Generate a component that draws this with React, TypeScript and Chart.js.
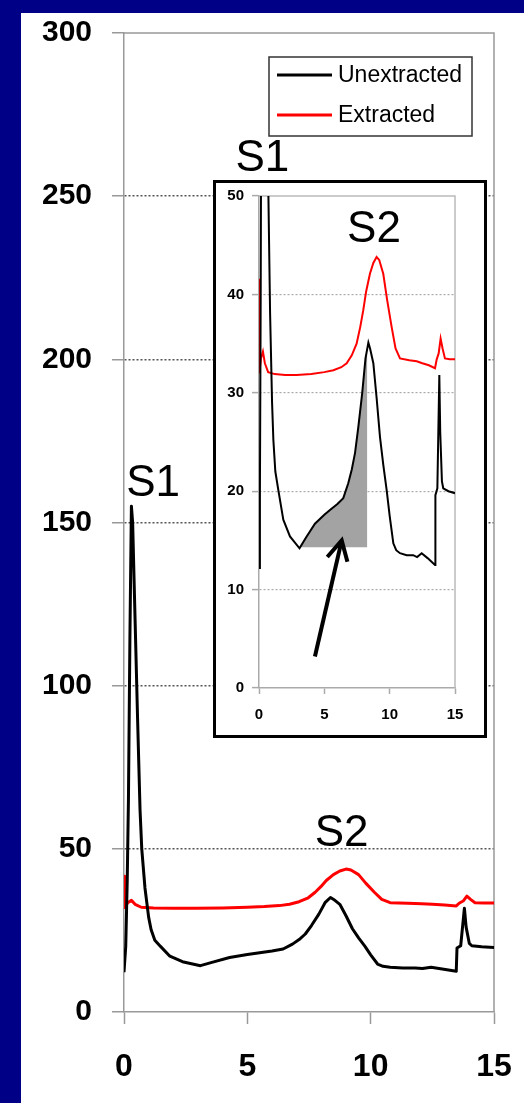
import { useEffect, useRef } from 'react';
import { Chart, registerables } from 'chart.js';

Chart.register(...registerables);

// ---- data ----
const seriesNames = ['Unextracted', 'Extracted'];

const unextractedX = [0, 0.07, 0.13, 0.18, 0.24, 0.3, 0.35, 0.45, 0.55, 0.65, 0.72, 0.85, 1.0, 1.1, 1.25, 1.48, 1.86, 2.37, 3.1, 3.6, 4.28, 5.0, 5.43, 6.0, 6.45, 6.83, 7.1, 7.35, 7.6, 7.9, 8.15, 8.37, 8.5, 8.75, 9.0, 9.26, 9.51, 9.77, 10.0, 10.28, 10.5, 10.79, 11.3, 11.8, 12.1, 12.45, 12.9, 13.47, 13.5, 13.65, 13.75, 13.8, 13.87, 14.0, 14.1, 14.5, 15];
const unextractedY = [12.2, 20, 40, 65, 115, 155, 150, 120, 90, 62, 50, 38, 29, 25.2, 22, 20.1, 17.1, 15.4, 14.2, 15.3, 16.7, 17.6, 18.1, 18.7, 19.3, 20.8, 22.2, 23.9, 26.5, 30, 33.5, 35.1, 34.5, 33.0, 29.5, 25.5, 22.7, 20.1, 17.5, 14.7, 14.0, 13.7, 13.5, 13.5, 13.3, 13.7, 13.2, 12.5, 19.6, 20.3, 28, 31.8, 26, 21, 20.3, 20.0, 19.8];

const extractedX = [0, 0.03, 0.15, 0.3, 0.45, 0.7, 1.2, 2.0, 2.88, 4.0, 5.0, 5.69, 6.3, 6.71, 7.1, 7.47, 7.75, 7.98, 8.2, 8.49, 8.75, 9.0, 9.2, 9.51, 9.8, 10.15, 10.45, 10.79, 11.5, 12.07, 12.5, 13.0, 13.47, 13.6, 13.75, 13.9, 14.05, 14.23, 14.6, 15];
const extractedY = [41.6, 32.0, 33.5, 34.2, 33.0, 32.1, 31.9, 31.8, 31.8, 31.9, 32.1, 32.3, 32.6, 33.0, 33.8, 35.0, 36.7, 38.4, 40.3, 42.1, 43.2, 43.8, 43.5, 42.1, 39.5, 36.7, 34.5, 33.5, 33.3, 33.2, 33.0, 32.8, 32.5, 33.4, 34.0, 35.5, 34.5, 33.5, 33.4, 33.4];

// shaded region of the inset (under the unextracted curve)
const shadeX = [3.1, 3.6, 4.28, 5.0, 5.43, 6.0, 6.45, 6.83, 7.1, 7.35, 7.6, 7.9, 8.15, 8.29];
const shadeY = [14.2, 15.3, 16.7, 17.6, 18.1, 18.7, 19.3, 20.8, 22.2, 23.9, 26.5, 30, 33.5, 34.6];
const shadeBase = 14.3;

const mainYTicks = [0, 50, 100, 150, 200, 250, 300];
const mainXTicks = [0, 5, 10, 15];
const insetYTicks = [0, 10, 20, 30, 40, 50];
const insetXTicks = [0, 5, 10, 15];

const mainLabels = [
  { text: 'S1', x: 1.18, y: 161.8 },
  { text: 'S1', x: 5.61, y: 261.4 },
  { text: 'S2', x: 8.82, y: 54.5 },
];
const insetLabels = [{ text: 'S2', x: 8.8, y: 46.6 }];
const arrowFrom = { x: 4.28, y: 3.2 };
const arrowTo = { x: 6.33, y: 15.0 };

// ---- styles ----
const FONT = '"Liberation Sans", Arial, Helvetica, sans-serif';
const NAVY = '#000087';
const RED = '#ff0000';

const pts = (xs: number[], ys: number[]) => xs.map((x, i) => ({ x, y: ys[i] }));

const setTicks = (arr: number[]) => (scale: any) => {
  scale.ticks = arr.map((v) => ({ value: v }));
};

const fitX = (h: number) => (s: any) => {
  s.height = h;
  s.paddingLeft = 0;
  s.paddingRight = 0;
};
const fitY = (w: number) => (s: any) => {
  s.width = w;
  s.paddingTop = 0;
  s.paddingBottom = 0;
};

const framePlugin = (color: string, width: number) => ({
  id: 'frame',
  beforeDatasetsDraw(chart: any) {
    const { ctx, chartArea: a } = chart;
    ctx.save();
    ctx.strokeStyle = color;
    ctx.lineWidth = width;
    ctx.beginPath();
    ctx.moveTo(a.left, a.top);
    ctx.lineTo(a.right, a.top);
    ctx.lineTo(a.right, a.bottom);
    ctx.stroke();
    ctx.restore();
  },
});

const textPlugin = (labels: { text: string; x: number; y: number }[], size: number) => ({
  id: 'texts',
  afterDatasetsDraw(chart: any) {
    const { ctx, scales } = chart;
    ctx.save();
    ctx.font = `${size}px ${FONT}`;
    ctx.fillStyle = '#000';
    ctx.textAlign = 'center';
    ctx.textBaseline = 'middle';
    labels.forEach((l) => {
      ctx.fillText(l.text, scales.x.getPixelForValue(l.x), scales.y.getPixelForValue(l.y));
    });
    ctx.restore();
  },
});

const legendPlugin = {
  id: 'boxLegend',
  afterDraw(chart: any) {
    const { ctx, chartArea } = chart;
    const w = 203;
    const h = 79;
    const left = chartArea.right - 22 - w;
    const top = chartArea.top + 24;
    ctx.save();
    ctx.fillStyle = '#fff';
    ctx.fillRect(left, top, w, h);
    ctx.strokeStyle = '#333';
    ctx.lineWidth = 1.5;
    ctx.strokeRect(left, top, w, h);
    chart.data.datasets.forEach((ds: any, i: number) => {
      const y = top + 18 + i * 40;
      ctx.strokeStyle = ds.borderColor;
      ctx.lineWidth = 3;
      ctx.beginPath();
      ctx.moveTo(left + 8, y);
      ctx.lineTo(left + 63, y);
      ctx.stroke();
      ctx.fillStyle = '#000';
      ctx.font = `23px ${FONT}`;
      ctx.textAlign = 'left';
      ctx.textBaseline = 'middle';
      ctx.fillText(ds.label, left + 69, y + 1);
    });
    ctx.restore();
  },
};

const arrowPlugin = {
  id: 'arrow',
  afterDatasetsDraw(chart: any) {
    const { ctx, scales } = chart;
    const x1 = scales.x.getPixelForValue(arrowFrom.x);
    const y1 = scales.y.getPixelForValue(arrowFrom.y);
    const x2 = scales.x.getPixelForValue(arrowTo.x);
    const y2 = scales.y.getPixelForValue(arrowTo.y);
    const ang = Math.atan2(y1 - y2, x1 - x2);
    const len = 22;
    const spread = (28 * Math.PI) / 180;
    ctx.save();
    ctx.strokeStyle = '#000';
    ctx.lineWidth = 4;
    ctx.lineJoin = 'miter';
    ctx.beginPath();
    ctx.moveTo(x1, y1);
    ctx.lineTo(x2, y2);
    ctx.stroke();
    ctx.beginPath();
    ctx.moveTo(x2 + len * Math.cos(ang + spread), y2 + len * Math.sin(ang + spread));
    ctx.lineTo(x2, y2);
    ctx.lineTo(x2 + len * Math.cos(ang - spread), y2 + len * Math.sin(ang - spread));
    ctx.stroke();
    ctx.restore();
  },
};

const gridColor = (edgeA: number, edgeB: number, color: string) => (ctx: any) =>
  ctx.tick && (ctx.tick.value === edgeA || ctx.tick.value === edgeB) ? 'rgba(0,0,0,0)' : color;

export default function App() {
  const mainRef = useRef<HTMLCanvasElement>(null);
  const insetRef = useRef<HTMLCanvasElement>(null);

  useEffect(() => {
    document.body.style.margin = '0';
    const main = new Chart(mainRef.current as HTMLCanvasElement, {
      type: 'line',
      data: {
        datasets: [
          {
            label: seriesNames[0],
            data: pts(unextractedX, unextractedY),
            borderColor: '#000',
            borderWidth: 3,
            pointRadius: 0,
            tension: 0,
            fill: false,
            borderJoinStyle: 'round',
          },
          {
            label: seriesNames[1],
            data: pts(extractedX, extractedY),
            borderColor: RED,
            borderWidth: 3,
            pointRadius: 0,
            tension: 0,
            fill: false,
            borderJoinStyle: 'round',
          },
        ],
      },
      options: {
        responsive: false,
        animation: false,
        layout: { padding: { top: 20, right: 30, left: 0, bottom: 0 } },
        plugins: { legend: { display: false }, tooltip: { enabled: false } },
        scales: {
          x: {
            type: 'linear',
            min: 0,
            max: 15,
            afterBuildTicks: setTicks(mainXTicks),
            afterFit: fitX(91),
            grid: { drawOnChartArea: false, tickLength: 12, tickColor: '#999', tickWidth: 1.5 },
            border: { color: '#999', width: 1.5 },
            ticks: {
              font: { family: FONT, size: 32, weight: 'bold' },
              color: '#000',
              padding: 24,
              maxRotation: 0,
            },
          },
          y: {
            type: 'linear',
            min: 0,
            max: 300,
            afterBuildTicks: setTicks(mainYTicks),
            afterFit: fitY(103),
            grid: {
              color: gridColor(0, 300, '#555'),
              lineWidth: 1.5,
              tickLength: 12,
              tickColor: '#999',
              tickWidth: 1.5,
            },
            border: { color: '#999', width: 1.5, dash: [2, 2] },
            ticks: {
              font: { family: FONT, size: 30, weight: 'bold' },
              color: '#000',
              padding: 20,
            },
          },
        },
      } as any,
      plugins: [framePlugin('#999', 1.5), textPlugin(mainLabels, 44), legendPlugin],
    });

    const inset = new Chart(insetRef.current as HTMLCanvasElement, {
      type: 'line',
      data: {
        datasets: [
          {
            label: seriesNames[0],
            data: pts(unextractedX, unextractedY),
            borderColor: '#000',
            borderWidth: 2,
            pointRadius: 0,
            tension: 0,
            fill: false,
          },
          {
            label: seriesNames[1],
            data: pts(extractedX, extractedY),
            borderColor: RED,
            borderWidth: 2,
            pointRadius: 0,
            tension: 0,
            fill: false,
          },
          {
            label: 'shade',
            data: pts(shadeX, shadeY),
            borderWidth: 0,
            borderColor: 'rgba(0,0,0,0)',
            backgroundColor: '#a3a3a3',
            pointRadius: 0,
            tension: 0,
            fill: { value: shadeBase },
          },
        ],
      },
      options: {
        responsive: false,
        animation: false,
        layout: { padding: { top: 13, right: 29, left: 0, bottom: 0 } },
        plugins: { legend: { display: false }, tooltip: { enabled: false } },
        scales: {
          x: {
            type: 'linear',
            min: 0,
            max: 15,
            afterBuildTicks: setTicks(insetXTicks),
            afterFit: fitX(47),
            grid: { drawOnChartArea: false, tickLength: 6, tickColor: '#aaa', tickWidth: 1.5 },
            border: { color: '#aaa', width: 1.5 },
            ticks: {
              font: { family: FONT, size: 15, weight: 'bold' },
              color: '#000',
              padding: 12,
              maxRotation: 0,
            },
          },
          y: {
            type: 'linear',
            min: 0,
            max: 50,
            afterBuildTicks: setTicks(insetYTicks),
            afterFit: fitY(43),
            grid: {
              color: gridColor(0, 50, '#aaa'),
              lineWidth: 1.2,
              tickLength: 7,
              tickColor: '#aaa',
              tickWidth: 1.5,
            },
            border: { color: '#aaa', width: 1.5, dash: [2, 2] },
            ticks: {
              font: { family: FONT, size: 15, weight: 'bold' },
              color: '#000',
              padding: 8,
            },
          },
        },
      } as any,
      plugins: [framePlugin('#bbb', 1.5), textPlugin(insetLabels, 44), arrowPlugin],
    });

    return () => {
      main.destroy();
      inset.destroy();
    };
  }, []);

  return (
    <div
      style={{
        position: 'fixed',
        left: 0,
        top: 0,
        width: 524,
        height: 1103,
        background: NAVY,
        overflow: 'hidden',
      }}
    >
      <canvas
        ref={mainRef}
        width={503}
        height={1090}
        style={{ position: 'absolute', left: 21, top: 13, width: 503, height: 1090, background: '#fff' }}
      />
      <div
        style={{
          position: 'absolute',
          left: 213,
          top: 180,
          width: 274,
          height: 558,
          boxSizing: 'border-box',
          border: '3px solid #000',
          background: '#fff',
        }}
      >
        <canvas ref={insetRef} width={268} height={552} style={{ display: 'block', width: 268, height: 552 }} />
      </div>
    </div>
  );
}
